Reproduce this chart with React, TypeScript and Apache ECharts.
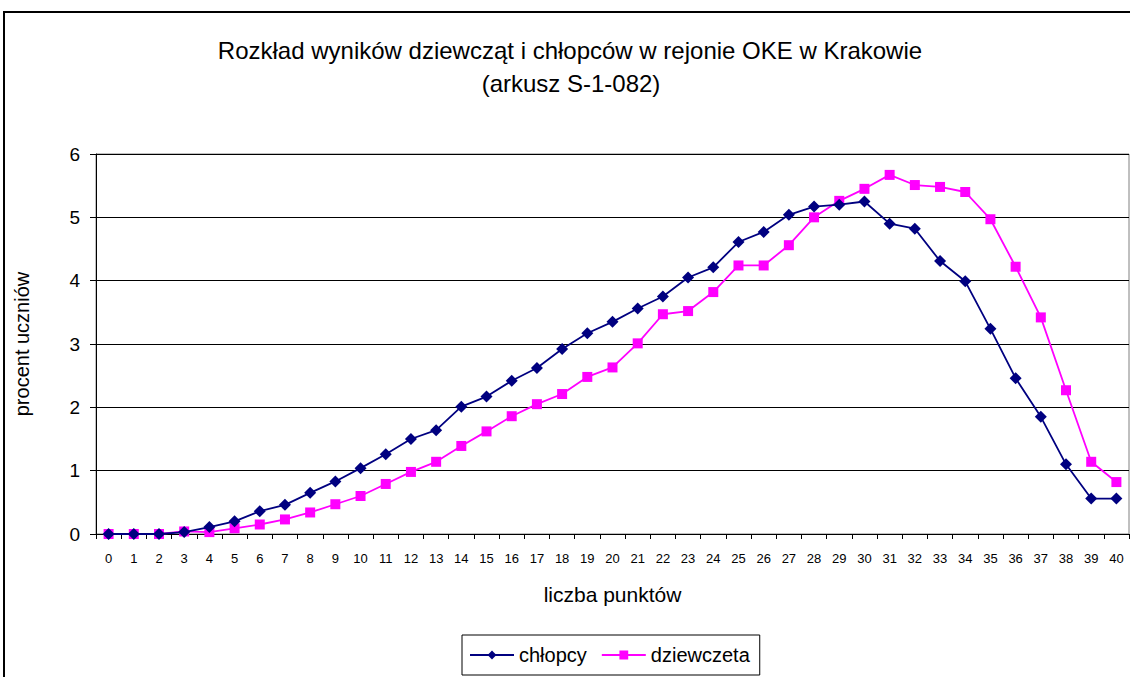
import React, { useEffect, useRef } from "react";
import * as echarts from "echarts";

const categories = Array.from({ length: 41 }, (_, i) => String(i));
const boys = [0, 0, 0, 0.03, 0.11, 0.2, 0.36, 0.46, 0.65, 0.83, 1.04, 1.26, 1.5, 1.64, 2.01, 2.17, 2.42, 2.62, 2.92, 3.17, 3.35, 3.56, 3.75, 4.05, 4.21, 4.61, 4.77, 5.04, 5.17, 5.2, 5.25, 4.9, 4.82, 4.31, 3.99, 3.24, 2.46, 1.85, 1.1, 0.56, 0.56];
const girls = [0, 0, 0, 0.04, 0.03, 0.09, 0.15, 0.23, 0.34, 0.47, 0.6, 0.79, 0.98, 1.14, 1.39, 1.62, 1.86, 2.05, 2.21, 2.48, 2.63, 3.01, 3.47, 3.52, 3.82, 4.24, 4.24, 4.56, 5.0, 5.26, 5.45, 5.67, 5.51, 5.48, 5.4, 4.97, 4.22, 3.42, 2.27, 1.14, 0.82];
const yTicks = [0, 1, 2, 3, 4, 5, 6];
const titleLines = ["Rozkład wyników dziewcząt i chłopców w rejonie OKE w Krakowie", "(arkusz S-1-082)"];

const FONT = "'Liberation Sans', Arial, sans-serif";

export default function App() {
  const ref = useRef<HTMLDivElement>(null);
  useEffect(() => {
    document.body.style.margin = "0";
    const chart = echarts.init(ref.current!, null, { renderer: "svg" });
    chart.setOption({
      animation: false,
      backgroundColor: "#fff",
      textStyle: { fontFamily: FONT, color: "#000" },
      graphic: [
        {
          type: "rect",
          shape: { x: 4, y: 12, width: 1140, height: 700 },
          style: { fill: "none", stroke: "#000", lineWidth: 2 },
          silent: true,
        },
        {
          type: "text",
          x: 570,
          y: 50,
          style: { text: titleLines[0], font: `24px ${FONT}`, fill: "#000", textAlign: "center", textVerticalAlign: "middle" },
          silent: true,
        },
        {
          type: "text",
          x: 571,
          y: 83,
          style: { text: titleLines[1], font: `24px ${FONT}`, fill: "#000", textAlign: "center", textVerticalAlign: "middle" },
          silent: true,
        },
      ],
      legend: {
        left: 462,
        top: 635,
        orient: "horizontal",
        borderColor: "#000",
        borderWidth: 1,
        borderRadius: 0,
        padding: [10, 10, 10, 7],
        itemGap: 14,
        itemWidth: 44,
        itemHeight: 11,
        textStyle: { fontSize: 20, color: "#000", fontFamily: FONT },
        data: ["chłopcy", "dziewczeta"],
      },
      grid: {
        left: 96,
        right: 1,
        top: 154,
        bottom: 143,
        show: true,
        borderColor: "#808080",
        borderWidth: 1,
      },
      xAxis: {
        type: "category",
        data: categories,
        boundaryGap: true,
        name: "liczba punktów",
        nameLocation: "middle",
        nameGap: 50,
        nameTextStyle: { fontSize: 21, color: "#000", fontFamily: FONT },
        axisLine: { lineStyle: { color: "#000", width: 1 } },
        axisTick: { show: true, length: 5, lineStyle: { color: "#000" }, interval: 0 },
        axisLabel: { fontSize: 13, color: "#000", margin: 18, interval: 0, fontFamily: FONT },
        splitLine: { show: false },
      },
      yAxis: {
        type: "value",
        min: 0,
        max: 6,
        interval: 1,
        name: "procent uczniów",
        nameLocation: "middle",
        nameGap: 64,
        nameTextStyle: { fontSize: 20, color: "#000", fontFamily: FONT },
        axisLine: { show: true, lineStyle: { color: "#000", width: 1 } },
        axisTick: { show: true, length: 6, lineStyle: { color: "#000" } },
        axisLabel: {
          fontSize: 19,
          color: "#000",
          margin: 16,
          fontFamily: FONT,
          formatter: (v: number) => (yTicks.includes(v) ? String(v) : ""),
        },
        splitLine: { show: true, lineStyle: { color: "#000", width: 1 } },
      },
      series: [
        {
          name: "chłopcy",
          type: "line",
          data: boys,
          symbol: "diamond",
          symbolSize: 12,
          color: "#000080",
          lineStyle: { color: "#000080", width: 1.8 },
          itemStyle: { color: "#000080" },
          z: 3,
        },
        {
          name: "dziewczeta",
          type: "line",
          data: girls,
          symbol: "rect",
          symbolSize: 10,
          color: "#FF00FF",
          lineStyle: { color: "#FF00FF", width: 1.8 },
          itemStyle: { color: "#FF00FF" },
          z: 2,
        },
      ],
    });
    return () => chart.dispose();
  }, []);
  return <div ref={ref} style={{ width: 1130, height: 677 }} />;
}
